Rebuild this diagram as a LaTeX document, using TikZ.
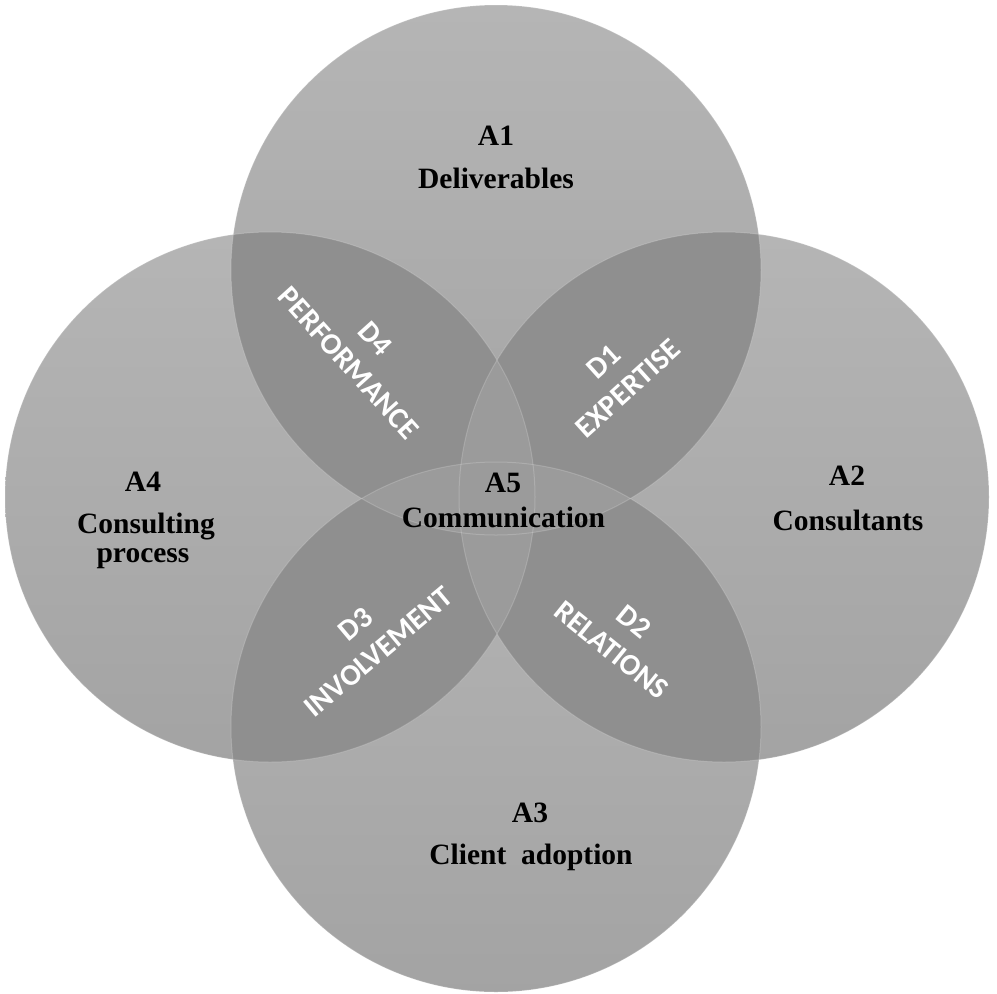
\documentclass[tikz,border=0pt]{standalone}
\usepackage{fontspec}
\setmainfont{Liberation Serif}
\newfontfamily\dfont{Carlito}
\definecolor{lensgray}{HTML}{8F8F8F}
\definecolor{centergray}{HTML}{9B9B9B}
\begin{document}
\begin{tikzpicture}[x=1pt,y=-1pt,
  disc/.style={top color=black!29, bottom color=black!36},
  lensfill/.style={fill=lensgray},
  centerfill/.style={fill=centergray},
  rim/.style={draw=white, draw opacity=0.18, line width=1pt},
  alab/.style={font=\fontsize{29.5}{31}\selectfont\bfseries, anchor=base, inner sep=0pt},
  dlab/.style={font=\dfont\fontsize{30}{36}\selectfont\bfseries, text=white, align=center, inner sep=0pt}]
\useasboundingbox (0,0) rectangle (997,994);
\def\R{265pt}
\coordinate (cT) at (496,270);
\coordinate (cB) at (496,727);
\coordinate (cL) at (270,497);
\coordinate (cR) at (724,497);
% single discs
\shade[disc] (cT) circle (\R);
\shade[disc] (cR) circle (\R);
\shade[disc] (cB) circle (\R);
\shade[disc] (cL) circle (\R);
% lenses
\begin{scope}\clip (cT) circle (\R); \fill[lensfill] (cR) circle (\R); \end{scope}
\begin{scope}\clip (cR) circle (\R); \fill[lensfill] (cB) circle (\R); \end{scope}
\begin{scope}\clip (cB) circle (\R); \fill[lensfill] (cL) circle (\R); \end{scope}
\begin{scope}\clip (cL) circle (\R); \fill[lensfill] (cT) circle (\R); \end{scope}
% centre
\begin{scope}\clip (cT) circle (\R); \fill[centerfill] (cB) circle (\R); \end{scope}
\begin{scope}\clip (cL) circle (\R); \fill[centerfill] (cR) circle (\R); \end{scope}
% faint rims
\draw[rim] (cT) circle (\R);
\draw[rim] (cR) circle (\R);
\draw[rim] (cB) circle (\R);
\draw[rim] (cL) circle (\R);
% area labels
\node[alab] (a1) at (496,145) {A1};
\node[alab] (a1t) at (496,188) {Deliverables};
\node[alab] (a2) at (847,485) {A2};
\node[alab] (a2t) at (848,530) {Consultants};
\node[alab] (a3) at (530,822) {A3};
\node[alab] (a3t) at (531,864) {Client\ \ adoption};
\node[alab] (a4) at (143,491) {A4};
\node[alab] (a4t) at (146,533) {Consulting};
\node[alab] (a4u) at (143,562) {process};
\node[alab] (a5) at (503,492) {A5};
\node[alab] (a5t) at (503.5,527) {Communication};
% dimension labels
\node[dlab, rotate=-48] (d4) at (362,351) {D4\\PERFORMANCE};
\node[dlab, rotate=42] (d1) at (616,375) {D1\\EXPERTISE};
\node[dlab, rotate=-39] (d2) at (623,636) {D2\\RELATIONS};
\node[dlab, rotate=40] (d3) at (367,638) {D3\\INVOLVEMENT};
\end{tikzpicture}
\end{document}
